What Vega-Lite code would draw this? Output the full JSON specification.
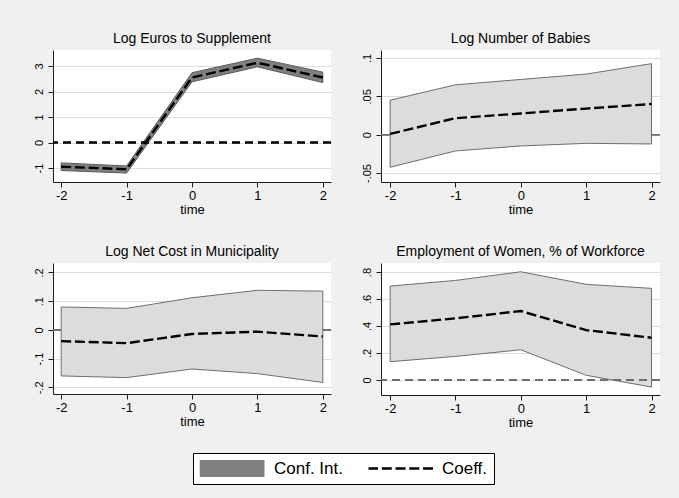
{
  "$schema": "https://vega.github.io/schema/vega-lite/v6.json",
  "background": "#f0f0f0",
  "padding": {"left": 33, "top": 31, "right": 20, "bottom": 20},
  "spacing": 28,
  "columns": 2,
  "data": {"values": [
    {"panel": "euros", "time": -2, "coef": -0.95, "lo": -1.1, "hi": -0.8},
    {"panel": "euros", "time": -1, "coef": -1.05, "lo": -1.2, "hi": -0.92},
    {"panel": "euros", "time": 0, "coef": 2.55, "lo": 2.38, "hi": 2.74},
    {"panel": "euros", "time": 1, "coef": 3.13, "lo": 2.97, "hi": 3.31},
    {"panel": "euros", "time": 2, "coef": 2.55, "lo": 2.35, "hi": 2.76},
    {"panel": "babies", "time": -2, "coef": 0.001, "lo": -0.0425, "hi": 0.045},
    {"panel": "babies", "time": -1, "coef": 0.0215, "lo": -0.0212, "hi": 0.065},
    {"panel": "babies", "time": 0, "coef": 0.0277, "lo": -0.0147, "hi": 0.072},
    {"panel": "babies", "time": 1, "coef": 0.034, "lo": -0.0113, "hi": 0.079},
    {"panel": "babies", "time": 2, "coef": 0.04, "lo": -0.0121, "hi": 0.0926},
    {"panel": "cost", "time": -2, "coef": -0.039, "lo": -0.16, "hi": 0.08},
    {"panel": "cost", "time": -1, "coef": -0.046, "lo": -0.166, "hi": 0.075},
    {"panel": "cost", "time": 0, "coef": -0.014, "lo": -0.136, "hi": 0.112},
    {"panel": "cost", "time": 1, "coef": -0.006, "lo": -0.152, "hi": 0.138},
    {"panel": "cost", "time": 2, "coef": -0.023, "lo": -0.183, "hi": 0.135},
    {"panel": "women", "time": -2, "coef": 0.412, "lo": 0.136, "hi": 0.696},
    {"panel": "women", "time": -1, "coef": 0.457, "lo": 0.175, "hi": 0.738},
    {"panel": "women", "time": 0, "coef": 0.511, "lo": 0.224, "hi": 0.802},
    {"panel": "women", "time": 1, "coef": 0.37, "lo": 0.035, "hi": 0.709},
    {"panel": "women", "time": 2, "coef": 0.313, "lo": -0.052, "hi": 0.679}
  ]},
  "config": {
    "font": "Liberation Sans",
    "view": {"stroke": null, "fill": "white"},
    "axis": {"domainColor": "#1a1a1a", "tickColor": "#1a1a1a", "tickSize": 5, "domainWidth": 1, "tickWidth": 1, "labelColor": "black", "titleColor": "black", "gridColor": "#dddddd", "gridWidth": 1, "labelFlush": false, "labelOverlap": false, "tickCount": 20, "labelFont": "Liberation Sans", "titleFont": "Liberation Sans"},
    "axisX": {"grid": false, "labelFontSize": 13, "labelPadding": 2, "titleFontSize": 13, "titleFontWeight": "normal", "titlePadding": 1},
    "axisY": {"grid": true, "labelAngle": -90, "labelAlign": "center", "labelBaseline": "alphabetic", "labelFontSize": 11, "labelPadding": 6},
    "title": {"fontSize": 14, "fontWeight": "normal", "color": "black", "offset": 4.5, "baseline": "alphabetic", "frame": "group", "anchor": "middle", "font": "Liberation Sans"},
    "legend": {
      "title": null, "orient": "none", "legendX": 140, "legendY": 403, "direction": "horizontal",
      "fillColor": "white", "strokeColor": "black", "padding": 6.5, "clipHeight": 18,
      "symbolSize": 1, "symbolType": "M-18,0H112", "labelFontSize": 17, "labelFont": "Liberation Sans", "labelColor": "black", "labelOffset": 56.5, "columnPadding": 25
    }
  },
  "concat": [
    {
      "width": 278, "height": 132,
      "title": "Log Euros to Supplement",
      "transform": [{"filter": "datum.panel === 'euros'"}],
      "layer": [
        {"mark": {"type": "area", "fill": "#808080", "stroke": "#5a5a5a", "strokeWidth": 1},
         "encoding": {
           "x": {"field": "time", "type": "quantitative", "scale": {"domain": [-2.125, 2.125], "nice": false, "zero": false}, "axis": {"title": "time", "values": [-2, -1, 0, 1, 2], "tickCount": 20, "labelOverlap": false, "labelExpr": "replace(toString(datum.value), '-0.', '-.')"}},
           "y": {"field": "lo", "type": "quantitative", "scale": {"domain": [-1.55, 3.63], "nice": false, "zero": false}, "axis": {"title": null, "values": [-1, 0, 1, 2, 3], "tickCount": 20, "labelOverlap": false, "labelExpr": "replace(replace(toString(datum.value), '-0.', '-.'), '0.', '.')"}},
           "y2": {"field": "hi"}
         }},
        {"mark": {"type": "rule", "color": "black", "strokeWidth": 1.3, "strokeDash": [8, 5]},
         "encoding": {"y": {"datum": 0, "axis": {"title": null}}}},
        {"mark": {"type": "line"},
         "encoding": {
           "x": {"field": "time", "type": "quantitative", "axis": {"title": "time"}},
           "y": {"field": "coef", "type": "quantitative", "axis": {"title": null}},
           "stroke": {"datum": "Coeff.", "type": "nominal", "scale": {"domain": ["Conf. Int.", "Coeff."], "range": ["#808080", "#000000"]}, "legend": {"title": null}},
           "strokeWidth": {"datum": "Coeff.", "type": "nominal", "scale": {"type": "ordinal", "domain": ["Conf. Int.", "Coeff."], "range": [17, 2.4]}, "legend": {"title": null}},
           "strokeDash": {"datum": "Coeff.", "type": "nominal", "scale": {"domain": ["Conf. Int.", "Coeff."], "range": [[1, 0], [10, 3.75]]}, "legend": {"title": null}}
         }}
      ]
    },
    {
      "width": 279, "height": 132,
      "title": "Log Number of Babies",
      "transform": [{"filter": "datum.panel === 'babies'"}],
      "layer": [
        {"mark": {"type": "rule", "color": "#6e6e6e", "strokeWidth": 1.3},
         "encoding": {"y": {"datum": 0, "axis": {"title": null}}}},
        {"mark": {"type": "area", "fill": "#dcdcdc", "stroke": "#6e6e6e", "strokeWidth": 1},
         "encoding": {
           "x": {"field": "time", "type": "quantitative", "scale": {"domain": [-2.14, 2.13], "nice": false, "zero": false}, "axis": {"title": "time", "values": [-2, -1, 0, 1, 2], "tickCount": 20, "labelOverlap": false, "labelExpr": "replace(toString(datum.value), '-0.', '-.')"}},
           "y": {"field": "lo", "type": "quantitative", "scale": {"domain": [-0.0617, 0.1104], "nice": false, "zero": false}, "axis": {"title": null, "values": [-0.05, 0, 0.05, 0.1], "tickCount": 20, "labelOverlap": false, "labelExpr": "replace(replace(toString(datum.value), '-0.', '-.'), '0.', '.')"}},
           "y2": {"field": "hi"}
         }},
        {"mark": {"type": "line", "color": "black", "strokeDash": [10, 3.75], "strokeWidth": 2.4},
         "encoding": {
           "x": {"field": "time", "type": "quantitative", "axis": {"title": "time"}},
           "y": {"field": "coef", "type": "quantitative", "axis": {"title": null}}
         }}
      ]
    },
    {
      "width": 278, "height": 131,
      "title": "Log Net Cost in Municipality",
      "transform": [{"filter": "datum.panel === 'cost'"}],
      "layer": [
        {"mark": {"type": "rule", "color": "#6e6e6e", "strokeWidth": 1.3},
         "encoding": {"y": {"datum": 0, "axis": {"title": null}}}},
        {"mark": {"type": "area", "fill": "#dcdcdc", "stroke": "#6e6e6e", "strokeWidth": 1},
         "encoding": {
           "x": {"field": "time", "type": "quantitative", "scale": {"domain": [-2.125, 2.125], "nice": false, "zero": false}, "axis": {"title": "time", "values": [-2, -1, 0, 1, 2], "tickCount": 20, "labelOverlap": false, "labelExpr": "replace(toString(datum.value), '-0.', '-.')"}},
           "y": {"field": "lo", "type": "quantitative", "scale": {"domain": [-0.223, 0.233], "nice": false, "zero": false}, "axis": {"title": null, "values": [-0.2, -0.1, 0, 0.1, 0.2], "tickCount": 20, "labelOverlap": false, "labelExpr": "replace(replace(toString(datum.value), '-0.', '-.'), '0.', '.')"}},
           "y2": {"field": "hi"}
         }},
        {"mark": {"type": "line", "color": "black", "strokeDash": [10, 3.75], "strokeWidth": 2.4},
         "encoding": {
           "x": {"field": "time", "type": "quantitative", "axis": {"title": "time"}},
           "y": {"field": "coef", "type": "quantitative", "axis": {"title": null}}
         }}
      ]
    },
    {
      "width": 279, "height": 132,
      "title": "Employment of Women, % of Workforce",
      "transform": [{"filter": "datum.panel === 'women'"}],
      "layer": [
        {"mark": {"type": "area", "fill": "#dcdcdc", "stroke": "#6e6e6e", "strokeWidth": 1},
         "encoding": {
           "x": {"field": "time", "type": "quantitative", "scale": {"domain": [-2.14, 2.13], "nice": false, "zero": false}, "axis": {"title": "time", "values": [-2, -1, 0, 1, 2], "tickCount": 20, "labelOverlap": false, "labelExpr": "replace(toString(datum.value), '-0.', '-.')"}},
           "y": {"field": "lo", "type": "quantitative", "scale": {"domain": [-0.111, 0.867], "nice": false, "zero": false}, "axis": {"title": null, "values": [0, 0.2, 0.4, 0.6, 0.8], "tickCount": 20, "labelOverlap": false, "labelExpr": "replace(replace(toString(datum.value), '-0.', '-.'), '0.', '.')"}},
           "y2": {"field": "hi"}
         }},
        {"mark": {"type": "rule", "color": "#6e6e6e", "strokeWidth": 1.3, "strokeDash": [8, 5]},
         "encoding": {"y": {"datum": 0, "axis": {"title": null}}}},
        {"mark": {"type": "line", "color": "black", "strokeDash": [10, 3.75], "strokeWidth": 2.4},
         "encoding": {
           "x": {"field": "time", "type": "quantitative", "axis": {"title": "time"}},
           "y": {"field": "coef", "type": "quantitative", "axis": {"title": null}}
         }}
      ]
    }
  ]
}
